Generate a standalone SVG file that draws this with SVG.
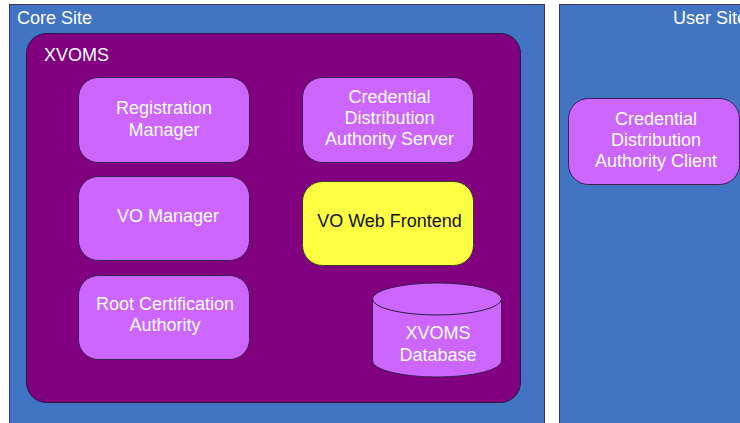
<svg xmlns="http://www.w3.org/2000/svg" width="740" height="423" viewBox="0 0 740 423">
<style>
text{font-family:"Liberation Sans",Arial,sans-serif;font-size:18px;fill:#ffffff}
.site{fill:#4174c2;stroke:#3a3a4a;stroke-width:1}
.xv{fill:#800080;stroke:#2a1a40;stroke-width:1}
.comp{fill:#cc66ff;stroke:#3a2050;stroke-width:1}
.yel{fill:#ffff44;stroke:#3a3a20;stroke-width:1}
.c{text-anchor:middle}
</style>
<rect width="740" height="423" fill="#ffffff"/>
<g id="core-site">
<rect class="site" x="9.5" y="4.5" width="535" height="430"/>
<text x="17" y="24">Core Site</text>
</g>
<g id="user-site">
<rect class="site" x="559.5" y="4.5" width="200" height="430"/>
<text x="673" y="24">User Site</text>
</g>
<g id="xvoms">
<rect class="xv" x="26.5" y="33.5" width="494" height="369" rx="20" ry="20"/>
<text x="44" y="61">XVOMS</text>
</g>
<g id="registration-manager">
<rect class="comp" x="78.5" y="77.5" width="171" height="85" rx="20" ry="20"/>
<text class="c" x="164" y="114">Registration</text>
<text class="c" x="164" y="135.5">Manager</text>
</g>
<g id="vo-manager">
<rect class="comp" x="78.5" y="176.5" width="171" height="84" rx="20" ry="20"/>
<text class="c" x="168" y="222">VO Manager</text>
</g>
<g id="root-ca">
<rect class="comp" x="78.5" y="275.5" width="171" height="84" rx="20" ry="20"/>
<text class="c" x="165" y="310">Root Certification</text>
<text class="c" x="165" y="331">Authority</text>
</g>
<g id="cda-server">
<rect class="comp" x="302.5" y="77.5" width="171" height="85" rx="20" ry="20"/>
<text class="c" x="389.5" y="103">Credential</text>
<text class="c" x="389.5" y="124">Distribution</text>
<text class="c" x="389.5" y="145">Authority Server</text>
</g>
<g id="vo-web-frontend">
<rect class="yel" x="302.5" y="181.5" width="171" height="84" rx="20" ry="20"/>
<text class="c" x="389.5" y="227" style="fill:#111111">VO Web Frontend</text>
</g>
<g id="xvoms-database">
<path class="comp" d="M372.5,299 L372.5,361 A64.5,16 0 0 0 501.5,361 L501.5,299 A64.5,16 0 0 0 372.5,299 Z"/>
<path d="M372.5,299 A64.5,16 0 0 0 501.5,299" fill="none" stroke="#2a1a40" stroke-width="1"/>
<text class="c" x="438" y="338.5">XVOMS</text>
<text class="c" x="438" y="360.5">Database</text>
</g>
<g id="cda-client">
<rect class="comp" x="568.5" y="98.5" width="171" height="86" rx="20" ry="20"/>
<text class="c" x="656" y="124.5">Credential</text>
<text class="c" x="656" y="146">Distribution</text>
<text class="c" x="656" y="167">Authority Client</text>
</g>
<g id="connectors"></g>
</svg>
